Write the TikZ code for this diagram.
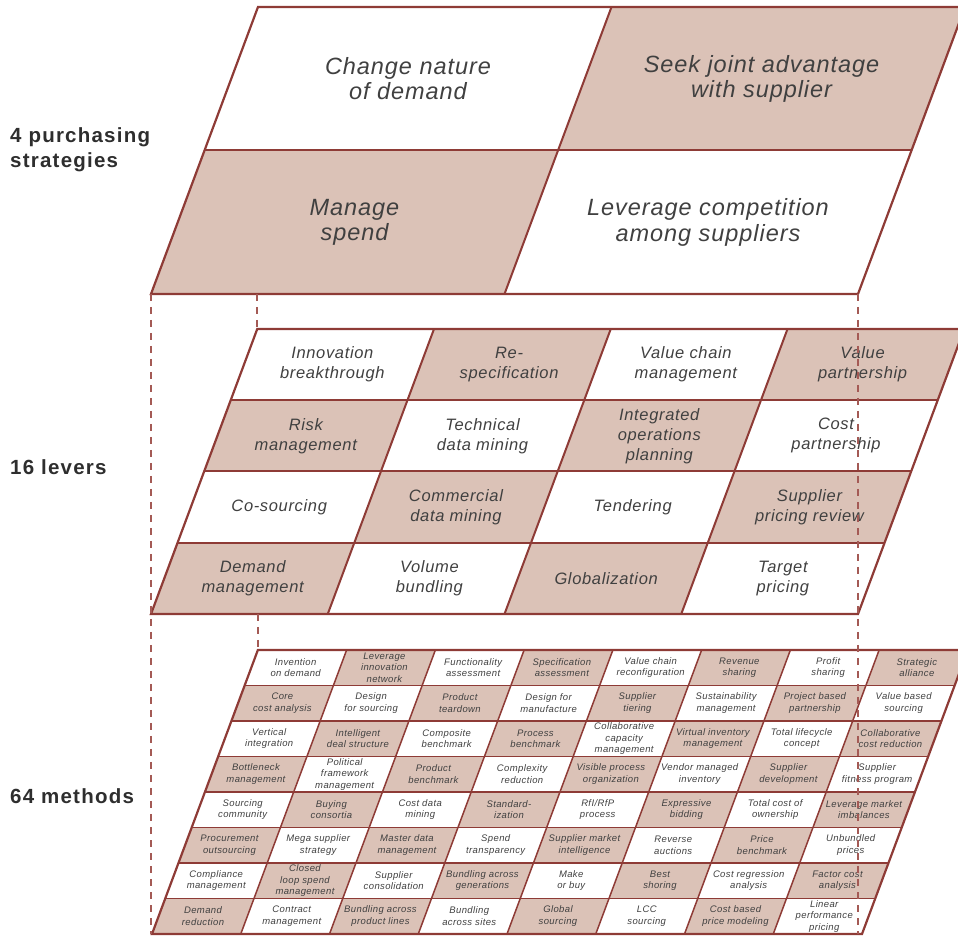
\documentclass[tikz,border=0pt]{standalone}
\usepackage{fontspec}
\setmainfont{Liberation Sans}[LetterSpace=4]
\newfontfamily\labelfont{Liberation Sans}[LetterSpace=6]
\definecolor{edge}{HTML}{8E3B36}
\definecolor{cellshade}{HTML}{DBC2B7}
\definecolor{dashcol}{HTML}{A45A55}
\definecolor{celltext}{HTML}{404040}
\definecolor{labeltext}{HTML}{2E2E2E}

% one slanted n x n layer: #1 name, #2/#3 lower-left corner, #4 n,
% #5 width, #6 height, #7 text style, #8 inner line width, #9 rows of texts
\newcommand\gridlayer[9]{%
  \begin{scope}[shift={(#2,#3)}, xslant=0.3728]
    \pgfmathsetmacro\cw{#5/#4}
    \pgfmathsetmacro\ch{#6/#4}
    \pgfmathtruncatemacro\nm{#4-1}
    \foreach \rowlist [count=\i from 0] in {#9}{%
      \foreach \t [count=\j from 0] in \rowlist{%
        \pgfmathtruncatemacro\odd{mod(\i+\j,2)}
        \pgfmathsetmacro\xa{\j*\cw}
        \pgfmathsetmacro\xb{(\j+1)*\cw}
        \pgfmathsetmacro\ya{#6-(\i+1)*\ch}
        \pgfmathsetmacro\yb{#6-\i*\ch}
        \ifnum\odd=1
          \fill[cellshade] (\xa,\ya) -- (\xb,\ya) -- (\xb,\yb) -- (\xa,\yb) -- cycle;
        \fi
      }%
    }%
    \foreach \k in {1,...,\nm}{%
      \draw[edge, line width=#8] (0,{\k*\ch}) -- (#5,{\k*\ch});
      \draw[edge, line width=#8] ({\k*\cw},0) -- ({\k*\cw},#6);
    }
    \draw[edge, line width=2.2pt, line join=miter] (0,0) -- (#5,0) -- (#5,#6) -- (0,#6) -- cycle;
    \coordinate (#1BL) at (0,0);
    \coordinate (#1BR) at (#5,0);
    \coordinate (#1TL) at (0,#6);
    \coordinate (#1TR) at (#5,#6);
    \foreach \rowlist [count=\i from 0] in {#9}{%
      \foreach \t [count=\j from 0] in \rowlist{%
        \node[#7] (#1-\i-\j) at ({(\j+0.5)*\cw},{#6-(\i+0.5)*\ch}) {\t};
      }%
    }%
  \end{scope}%
}

\begin{document}
\begin{tikzpicture}[x=1pt, y=1pt,
  toptext/.style={align=center, text=celltext, inner sep=0pt,
    font=\fontsize{23.5}{25.5}\selectfont\itshape},
  midtext/.style={align=center, text=celltext, inner sep=0pt,
    font=\fontsize{16.5}{20}\selectfont\itshape},
  bottext/.style={align=center, text=celltext, inner sep=0pt,
    font=\fontsize{9.5}{11.5}\selectfont\itshape},
  layerlabel/.style={anchor=west, align=left, text=labeltext, inner sep=0pt,
    font=\labelfont\fontsize{20.5}{25}\selectfont\bfseries},
  dashline/.style={dashcol, line width=2pt, dash pattern=on 7pt off 6pt}]

\useasboundingbox (0,0) rectangle (958,937);

% 4 purchasing strategies
\gridlayer{top}{151}{643}{2}{707}{287}{toptext}{2pt}{%
  {{Change nature\\of demand},{Seek joint advantage\\with supplier}},
  {{Manage\\spend},{Leverage competition\\among suppliers}}}

% 16 levers
\gridlayer{mid}{151}{323}{4}{707}{285}{midtext}{2pt}{%
  {{Innovation\\breakthrough},{Re-\\specification},{Value chain\\management},{Value\\partnership}},
  {{Risk\\management},{Technical\\data mining},{Integrated\\operations\\planning},{Cost\\partnership}},
  {{Co-sourcing},{Commercial\\data mining},{Tendering},{Supplier\\pricing review}},
  {{Demand\\management},{Volume\\bundling},{Globalization},{Target\\pricing}}}

% 64 methods
\gridlayer{bot}{152}{3}{8}{710}{284}{bottext}{1.5pt}{%
  {{Invention\\on demand},{Leverage\\innovation\\network},{Functionality\\assessment},{Specification\\assessment},{Value chain\\reconfiguration},{Revenue\\sharing},{Profit\\sharing},{Strategic\\alliance}},
  {{Core\\cost analysis},{Design\\for sourcing},{Product\\teardown},{Design for\\manufacture},{Supplier\\tiering},{Sustainability\\management},{Project based\\partnership},{Value based\\sourcing}},
  {{Vertical\\integration},{Intelligent\\deal structure},{Composite\\benchmark},{Process\\benchmark},{Collaborative\\capacity\\management},{Virtual inventory\\management},{Total lifecycle\\concept},{Collaborative\\cost reduction}},
  {{Bottleneck\\management},{Political\\framework\\management},{Product\\benchmark},{Complexity\\reduction},{Visible process\\organization},{Vendor managed\\inventory},{Supplier\\development},{Supplier\\fitness program}},
  {{Sourcing\\community},{Buying\\consortia},{Cost data\\mining},{Standard-\\ization},{RfI/RfP\\process},{Expressive\\bidding},{Total cost of\\ownership},{Leverage market\\imbalances}},
  {{Procurement\\outsourcing},{Mega supplier\\strategy},{Master data\\management},{Spend\\transparency},{Supplier market\\intelligence},{Reverse\\auctions},{Price\\benchmark},{Unbundled\\prices}},
  {{Compliance\\management},{Closed\\loop spend\\management},{Supplier\\consolidation},{Bundling across\\generations},{Make\\or buy},{Best\\shoring},{Cost regression\\analysis},{Factor cost\\analysis}},
  {{Demand\\reduction},{Contract\\management},{Bundling across\\product lines},{Bundling\\across sites},{Global\\sourcing},{LCC\\sourcing},{Cost based\\price modeling},{Linear\\performance\\pricing}}}

% projection lines between the layers
\draw[dashline] (topBL) -- (topBL |- botBL);
\draw[dashline] (topBR) -- (topBR |- botBR);
\draw[dashline] (topBL -| midTL) -- (midTL);
\draw[dashline] (midBL -| botTL) -- (botTL);

% layer labels
\node[layerlabel] (lab-strategies) at (10,787) {4 purchasing\\strategies};
\node[layerlabel] (lab-levers) at (10,470) {16 levers};
\node[layerlabel] (lab-methods) at (10,141) {64 methods};
\end{tikzpicture}
\end{document}
